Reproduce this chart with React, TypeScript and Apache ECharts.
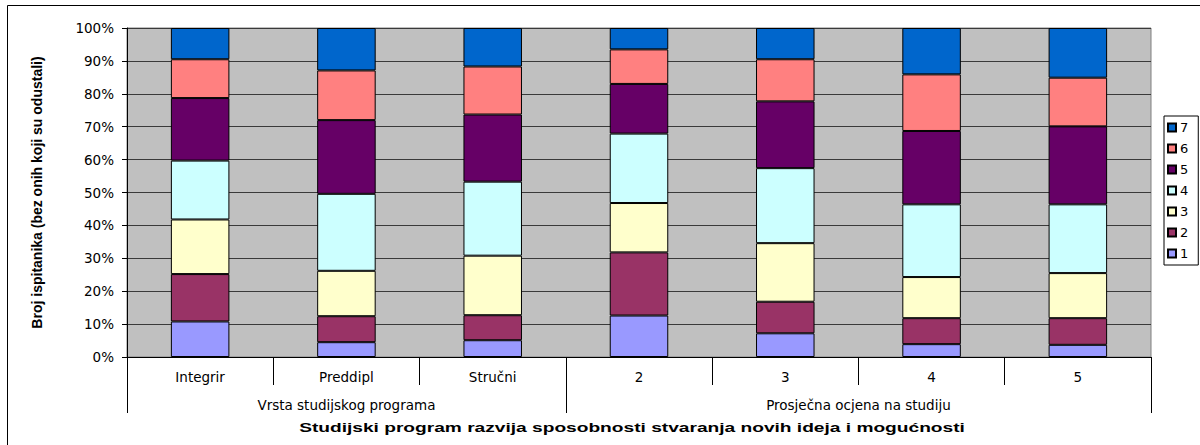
import React, { useEffect, useRef } from "react";
import * as echarts from "echarts";

const categories = ["Integrir", "Preddipl", "Stručni", "2", "3", "4", "5"];
const groupNames = ["Vrsta studijskog programa", "Prosječna ocjena na studiju"];
const groupSizes = [3, 4];
const seriesNames = ["1", "2", "3", "4", "5", "6", "7"];
const seriesColors = ["#9999FF", "#993366", "#FFFFCC", "#CCFFFF", "#660066", "#FF8080", "#0066CC"];

const s1 = [10.8, 4.5, 5.1, 12.6, 7.2, 3.9, 3.7];
const s2 = [14.4, 7.9, 7.6, 19.2, 9.6, 7.9, 8.1];
const s3 = [16.6, 13.8, 18.1, 15.0, 17.8, 12.5, 13.7];
const s4 = [17.9, 23.4, 22.5, 21.1, 22.8, 22.1, 20.9];
const s5 = [19.0, 22.4, 20.4, 15.1, 20.3, 22.3, 23.7];
const s6 = [11.8, 15.1, 14.6, 10.5, 12.8, 17.2, 14.8];
const s7 = [9.5, 12.9, 11.7, 6.5, 9.5, 14.1, 15.1];
const seriesValues = [s1, s2, s3, s4, s5, s6, s7];

const yTitle = "Broj ispitanika (bez onih koji su odustali)";
const xTitle = "Studijski program razvija sposobnosti stvaranja novih ideja i mogućnosti";

const FONT = "DejaVu Sans";
const FONT_B = "Liberation Sans";

function measure(text: string, font: string): number {
  const c = document.createElement("canvas").getContext("2d");
  if (!c) return text.length * 6;
  c.font = font;
  return c.measureText(text).width;
}

export default function App() {
  const ref = useRef<HTMLDivElement>(null);
  useEffect(() => {
    if (!ref.current) return;
    const chart = echarts.init(ref.current, undefined, { renderer: "svg" });

    const groupTicks: number[] = [0];
    const groupCenters: number[] = [];
    let acc = 0;
    groupSizes.forEach((g) => {
      groupCenters.push(acc + g / 2);
      acc += g;
      groupTicks.push(acc);
    });

    const titleFont = `bold 12px "${FONT_B}"`;
    const titleW = measure(xTitle, titleFont);
    const titleScale = titleW > 0 ? 666 / titleW : 1;

    chart.setOption({
      animation: false,
      backgroundColor: "#FFFFFF",
      textStyle: { fontFamily: FONT },
      grid: {
        left: 127,
        right: 49,
        top: 28,
        bottom: 88,
        show: true,
        backgroundColor: "#C0C0C0",
        borderColor: "#808080",
        borderWidth: 1,
      },
      legend: {
        orient: "vertical",
        left: 1164,
        top: 116,
        data: seriesNames.slice().reverse(),
        icon: "rect",
        itemWidth: 8,
        itemHeight: 8,
        itemGap: 8,
        borderColor: "#000",
        borderWidth: 1,
        padding: [5, 10, 5, 3],
        textStyle: { fontFamily: FONT, fontSize: 13, color: "#000", padding: [0, 0, 0, -1] },
      },
      graphic: [
        {
          type: "rect",
          shape: { x: 7.5, y: 5.5, width: 1300, height: 600 },
          style: { fill: "none", stroke: "#000", lineWidth: 1 },
          silent: true,
        },
        {
          type: "text",
          x: 632,
          y: 428,
          scaleX: titleScale,
          silent: true,
          style: {
            text: xTitle,
            font: titleFont,
            fill: "#000",
            align: "center",
            verticalAlign: "middle",
          },
        },
      ],
      xAxis: [
        {
          type: "category",
          data: categories,
          position: "bottom",
          axisLine: { show: true, lineStyle: { color: "#000", width: 1 } },
          axisTick: { show: true, interval: 0, length: 28, alignWithLabel: false, lineStyle: { color: "#000" } },
          axisLabel: { interval: 0, margin: 13, fontFamily: FONT, fontSize: 13.5, color: "#000" },
          splitLine: { show: false },
        },
        {
          type: "value",
          min: 0,
          max: categories.length,
          position: "bottom",
          offset: 28,
          axisLine: { show: false },
          axisTick: { show: true, customValues: groupTicks, length: 28, lineStyle: { color: "#000" } },
          axisLabel: {
            show: true,
            customValues: groupCenters,
            margin: 13,
            fontFamily: FONT,
            fontSize: 13.5,
            color: "#000",
            formatter: (v: number) => {
              const i = groupCenters.indexOf(v);
              return i >= 0 ? groupNames[i] : "";
            },
          },
          splitLine: { show: false },
        },
      ],
      yAxis: {
        type: "value",
        min: 0,
        max: 100,
        interval: 10,
        axisLine: { show: true, lineStyle: { color: "#000" } },
        axisTick: { show: true, length: 5, lineStyle: { color: "#000" } },
        axisLabel: { formatter: "{value}%", margin: 13, fontFamily: FONT, fontSize: 13.5, color: "#000" },
        splitLine: { show: true, lineStyle: { color: "#3a3a3a", width: 1 } },
        name: yTitle,
        nameLocation: "middle",
        nameGap: 83,
        nameTextStyle: { fontFamily: FONT_B, fontWeight: "bold", fontSize: 14, color: "#000" },
      },
      series: seriesNames.map((n, i) => ({
        name: n,
        type: "bar",
        stack: "total",
        barCategoryGap: "60%",
        data: seriesValues[i],
        itemStyle: { color: seriesColors[i], borderColor: "#000", borderWidth: 1 },
        emphasis: { disabled: true },
      })),
    });
    return () => chart.dispose();
  }, []);
  return <div ref={ref} style={{ position: "fixed", left: 0, top: 0, width: 1200, height: 445 }} />;
}
